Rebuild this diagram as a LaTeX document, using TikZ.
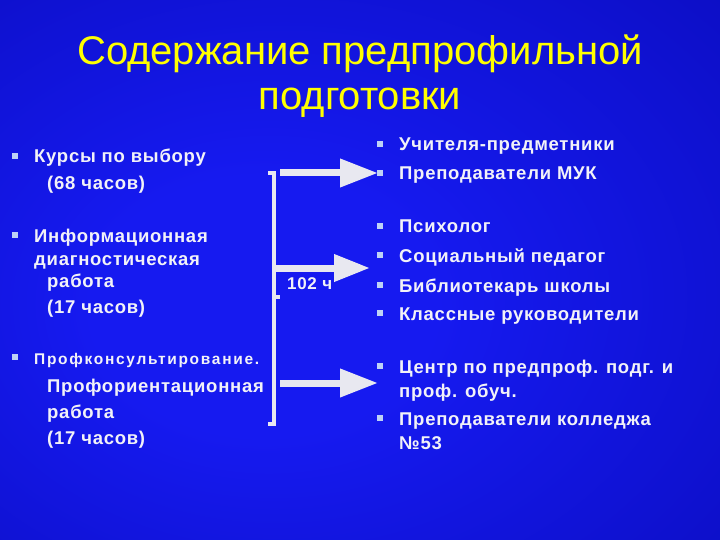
\documentclass[tikz,border=0pt]{standalone}
\usepackage{fontspec}
\setmainfont{Liberation Sans}
\newfontfamily\spacedfont{Liberation Sans}[LetterSpace=4]
\newfontfamily\widefont{Liberation Sans}[LetterSpace=11]
\usetikzlibrary{arrows.meta}
\definecolor{bgin}{RGB}{22,26,240}
\definecolor{bgout}{RGB}{0,0,145}
\definecolor{titleyellow}{RGB}{255,255,0}
\definecolor{bodywhite}{RGB}{242,242,248}
\definecolor{bulletblue}{RGB}{190,210,245}
\definecolor{arrowgrey}{RGB}{232,232,240}
\pgfdeclareradialshading{bgshade}{\pgfpoint{-8bp}{-4bp}}{color(0bp)=(bgin); color(12bp)=(bgin); color(75bp)=(bgout)}
\tikzset{
  titletext/.style={font=\fontsize{40}{44}\selectfont, text=titleyellow, anchor=base, inner sep=0pt},
  bodytext/.style={font=\spacedfont\bfseries\fontsize{18.5}{22}\selectfont, text=bodywhite, anchor=base west, inner sep=0pt},
  smalltext/.style={font=\widefont\bfseries\fontsize{15.5}{18}\selectfont, text=bodywhite, anchor=base west, inner sep=0pt},
  bul/.style={fill=bulletblue, minimum size=6pt, inner sep=0pt, draw=none},
  bigarrow/.style={draw=arrowgrey, line width=7pt, -{Triangle[length=38pt,width=27pt,fill=arrowgrey]}},
  bracketline/.style={draw=arrowgrey, line width=3.5pt}
}
\begin{document}
\begin{tikzpicture}[x=1pt,y=-1pt]
\useasboundingbox (0,0) rectangle (720,540);
\shade[shading=bgshade] (0,0) rectangle (720,540);

% title
\node[titletext] (t1) at (360,65) {Содержание предпрофильной};
\node[titletext] (t2) at (360,110) {подготовки};

% left column
\node[bul] (lb1) at (15,156) {};
\node[bodytext] (l1) at (34,163) {Курсы по выбору};
\node[bodytext] (l2) at (47,190) {(68 часов)};
\node[bul] (lb2) at (15,235) {};
\node[bodytext] (l3) at (34,242) {Информационная};
\node[bodytext] (l4) at (34,265) {диагностическая};
\node[bodytext] (l5) at (47,287) {работа};
\node[bodytext] (l6) at (47,313) {(17 часов)};
\node[bul] (lb3) at (15,357) {};
\node[smalltext] (l7) at (34,364) {Профконсультирование.};
\node[bodytext] (l8) at (47,392) {Профориентационная};
\node[bodytext] (l9) at (47,418) {работа};
\node[bodytext] (l10) at (47,444) {(17 часов)};

% right column
\node[bul] (rb1) at (380,144) {};
\node[bodytext] (r1) at (399,151) {Учителя-предметники};
\node[bul] (rb2) at (380,173) {};
\node[bodytext] (r2) at (399,180) {Преподаватели МУК};
\node[bul] (rb3) at (380,226) {};
\node[bodytext] (r3) at (399,233) {Психолог};
\node[bul] (rb4) at (380,255) {};
\node[bodytext] (r4) at (399,262) {Социальный педагог};
\node[bul] (rb5) at (380,285) {};
\node[bodytext] (r5) at (399,292) {Библиотекарь школы};
\node[bul] (rb6) at (380,313) {};
\node[bodytext] (r6) at (399,320) {Классные руководители};
\node[bul] (rb7) at (380,366) {};
\node[bodytext] (r7) at (399,373) {Центр по предпроф. подг. и};
\node[bodytext] (r8) at (399,397) {проф. обуч.};
\node[bul] (rb8) at (380,418) {};
\node[bodytext] (r9) at (399,425) {Преподаватели колледжа};
\node[bodytext] (r10) at (399,449) {№53};

% bracket
\coordinate (brtop) at (274,173);
\coordinate (brbot) at (274,424);
\coordinate (brmid) at (274,268);
\draw[bracketline] (268,173) -- (brtop) -- (brbot) -- (268,424);
\draw[bracketline] (274,297) -- (280,297);

% arrows
\coordinate (a1s) at (280,173);
\coordinate (a1e) at (378,173);
\coordinate (a3s) at (280,383);
\coordinate (a3e) at (378,383);
\coordinate (a2e) at (370,268);
\draw[bigarrow] (a1s) -- (a1e);
\draw[bigarrow, -{Triangle[length=36pt,width=26pt,fill=arrowgrey]}] (brmid) -- (a2e);
\draw[bigarrow] (a3s) -- (a3e);

\node[bodytext, font=\spacedfont\bfseries\fontsize{17}{20}\selectfont] (lbl) at (287,289) {102 ч};
\end{tikzpicture}
\end{document}
